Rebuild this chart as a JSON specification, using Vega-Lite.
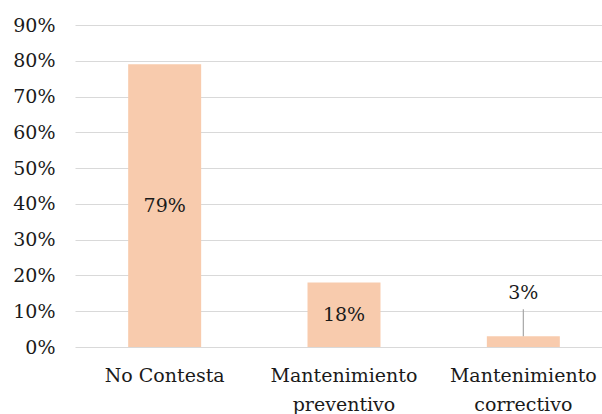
{
  "$schema": "https://vega.github.io/schema/vega-lite/v6.json",
  "autosize": {"type": "none"},
  "padding": {"left": 75, "top": 25, "right": 0, "bottom": 67},
  "width": 538,
  "height": 322,
  "background": "white",
  "config": {
    "view": {"stroke": null},
    "font": "DejaVu Serif"
  },
  "data": {
    "values": [
      {"categoria": "No Contesta", "valor": 0.79},
      {"categoria": "Mantenimiento preventivo", "valor": 0.18},
      {"categoria": "Mantenimiento correctivo", "valor": 0.03}
    ]
  },
  "encoding": {
    "x": {
      "field": "categoria",
      "type": "nominal",
      "sort": null,
      "scale": {"paddingInner": 0.593, "paddingOuter": 0.2965},
      "axis": {
        "title": null,
        "labelAngle": 0,
        "labelFont": "DejaVu Serif",
        "labelFontSize": 19,
        "labelColor": "#1a1a1a",
        "labelLineHeight": 29,
        "labelPadding": 19,
        "labelExpr": "indexof(datum.label, 'Mantenimiento') == 0 ? split(datum.label, ' ') : datum.label",
        "ticks": false,
        "domain": false,
        "grid": false
      }
    }
  },
  "layer": [
    {
      "mark": {"type": "bar", "color": "#F8CBAD"},
      "encoding": {
        "y": {
          "field": "valor",
          "type": "quantitative",
          "scale": {"domain": [0, 0.9], "nice": false},
          "axis": {
            "title": null,
            "values": [0, 0.1, 0.2, 0.3, 0.4, 0.5, 0.6, 0.7, 0.8, 0.9],
            "format": ".0%",
            "labelFont": "DejaVu Serif",
            "labelFontSize": 19,
            "labelColor": "#1a1a1a",
            "labelPadding": 20,
            "ticks": false,
            "domain": false,
            "grid": true,
            "gridColor": "#D9D9D9",
            "gridWidth": 1.2
          }
        }
      }
    },
    {
      "transform": [{"filter": "datum.valor > 0.1"}],
      "mark": {"type": "text", "font": "DejaVu Serif", "fontSize": 19, "color": "#1a1a1a", "baseline": "middle"},
      "encoding": {
        "y": {
          "field": "valor",
          "type": "quantitative",
          "scale": {"domain": [0, 1.8], "nice": false},
          "axis": null
        },
        "text": {"field": "valor", "type": "quantitative", "format": ".0%"}
      }
    },
    {
      "transform": [{"filter": "datum.valor <= 0.1"}],
      "mark": {"type": "text", "font": "DejaVu Serif", "fontSize": 19, "color": "#1a1a1a", "baseline": "middle", "dy": -43},
      "encoding": {
        "y": {"field": "valor", "type": "quantitative", "scale": {"domain": [0, 0.9], "nice": false}, "axis": null},
        "text": {"field": "valor", "type": "quantitative", "format": ".0%"}
      }
    },
    {
      "transform": [{"filter": "datum.valor <= 0.1"}],
      "mark": {"type": "rule", "color": "#A6A6A6", "strokeWidth": 1.2, "y2Offset": -27},
      "encoding": {
        "y": {"field": "valor", "type": "quantitative", "scale": {"domain": [0, 0.9], "nice": false}, "axis": null},
        "y2": {"field": "valor"}
      }
    }
  ],
  "resolve": {"scale": {"y": "independent"}}
}
